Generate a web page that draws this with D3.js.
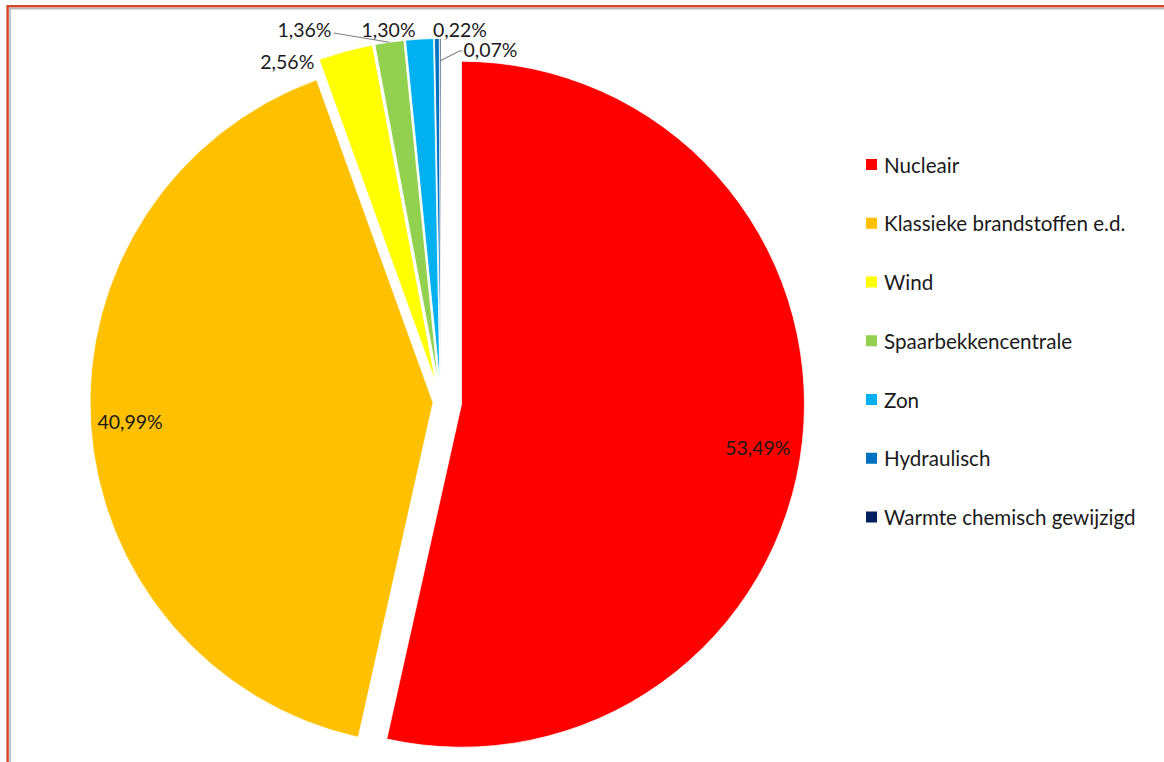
<!DOCTYPE html>
<html>
<head>
<meta charset="utf-8">
<script src="https://cdn.jsdelivr.net/npm/d3@7"></script>
<style>
  html, body { margin: 0; padding: 0; background: #fff; }
  svg { display: block; }
  text { font-family: Lato, "Open Sans", sans-serif; }
</style>
</head>
<body>
<svg id="chart" width="1164" height="762"></svg>
<script>
// ---- data ----
const categories = [
  "Nucleair",
  "Klassieke brandstoffen e.d.",
  "Wind",
  "Spaarbekkencentrale",
  "Zon",
  "Hydraulisch",
  "Warmte chemisch gewijzigd"
];
const values = [53.49, 40.99, 2.56, 1.36, 1.30, 0.22, 0.07];
const colors = ["#FF0000", "#FFC000", "#FFFF00", "#92D050", "#00B0F0", "#0070C0", "#002060"];

// ---- layout config ----
const W = 1164, H = 762;
const center = { x: 441, y: 402 };
const radius = 343;
const explode = [20.6, 8, 20.5, 20.5, 20.5, 20.5, 20.5];
// label placement: "in" = inside along bisector (fraction of radius, optional angle shift in deg);
// "out" = polar [angleDeg, dist] from pie centre
const labelPlace = [
  { mode: "in", f: 0.873, da: 2.0 },
  { mode: "in", f: 0.885, da: 0 },
  { mode: "out", a: 335.7, d: 373.5 },
  { mode: "out", a: 339.85, d: 396.3, leader: 1.0, side: "right" },
  { mode: "out", a: 351.97, d: 375.7 },
  { mode: "out", a: 2.92, d: 372.5 },
  { mode: "out", a: 8.0, d: 355.5, leader: 0.935, side: "left" }
];
const fontSize = 19.5;
const legendFontSize = 20.6;

const fmt = v => v.toFixed(2).replace(".", ",") + "%";

const svg = d3.select("#chart");
svg.append("rect").attr("width", W).attr("height", H).attr("fill", "#fff");

// frame (cropped screenshot border)
svg.append("line").attr("x1", 9).attr("x2", W).attr("y1", 8.6).attr("y2", 8.6)
  .attr("stroke", "#b8b8b8").attr("stroke-width", 1.6);
svg.append("line").attr("x1", 10).attr("x2", 10).attr("y1", 8).attr("y2", H)
  .attr("stroke", "#b8b8b8").attr("stroke-width", 1.6);
svg.append("rect").attr("x", 7.6).attr("y", 6.2).attr("width", W + 50).attr("height", H + 50)
  .attr("fill", "none").attr("stroke", "#D2472B").attr("stroke-width", 2.4);

const pie = d3.pie().sort(null).value(d => d).startAngle(0).endAngle(2 * Math.PI);
const arcs = pie(values);
const arc = d3.arc().innerRadius(0).outerRadius(radius);

const dirOf = ang => [Math.sin(ang), -Math.cos(ang)];

const g = svg.append("g").attr("transform", `translate(${center.x},${center.y})`);

const sliceCenters = arcs.map((a, i) => {
  const mid = (a.startAngle + a.endAngle) / 2;
  const [dx, dy] = dirOf(mid);
  return [dx * explode[i], dy * explode[i], mid];
});

g.selectAll("path.slice")
  .data(arcs)
  .join("path")
  .attr("class", "slice")
  .attr("transform", (d, i) => `translate(${sliceCenters[i][0]},${sliceCenters[i][1]})`)
  .attr("d", arc)
  .attr("fill", (d, i) => colors[i])
  .attr("stroke", "#fff")
  .attr("stroke-width", 0.8);

// labels
const labelG = g.append("g");
arcs.forEach((a, i) => {
  const p = labelPlace[i];
  const [sx, sy, mid] = sliceCenters[i];
  let lx, ly;
  if (p.mode === "in") {
    const [dx, dy] = dirOf(mid + p.da * Math.PI / 180);
    lx = sx + dx * radius * p.f;
    ly = sy + dy * radius * p.f;
  } else {
    const ang = p.a * Math.PI / 180;
    const [dx, dy] = dirOf(ang);
    lx = dx * p.d;
    ly = dy * p.d;
  }
  const t = labelG.append("text")
    .attr("x", lx).attr("y", ly)
    .attr("text-anchor", "middle")
    .attr("dominant-baseline", "central")
    .attr("font-size", fontSize)
    .attr("fill", "#1a1a1a")
    .text(fmt(values[i]));
  if (p.leader) {
    const bb = t.node().getBBox();
    const [dx, dy] = dirOf(mid);
    const tx = sx + dx * radius * p.leader;
    const ty = sy + dy * radius * p.leader;
    let pts;
    if (p.side === "right") {
      pts = [[bb.x + bb.width + 2, ly + 3], [tx, ty]];
    } else {
      pts = [[bb.x - 1, ly + 1], [bb.x - 4, ly + 1], [tx, ty]];
    }
    labelG.append("path")
      .attr("d", d3.line()(pts))
      .attr("fill", "none")
      .attr("stroke", "#7f7f7f")
      .attr("stroke-width", 1.1);
  }
});

// legend
const ly = d3.scalePoint().domain(categories).range([164.5, 517]);
const leg = svg.append("g");
const items = leg.selectAll("g").data(categories).join("g")
  .attr("transform", d => `translate(866,${ly(d)})`);
items.append("rect").attr("x", 0).attr("y", -5.5).attr("width", 11).attr("height", 11)
  .attr("fill", (d, i) => colors[i]);
items.append("text").attr("x", 18).attr("y", 0)
  .attr("dominant-baseline", "central")
  .attr("font-size", legendFontSize)
  .attr("fill", "#1a1a1a")
  .text(d => d);
</script>
</body>
</html>
